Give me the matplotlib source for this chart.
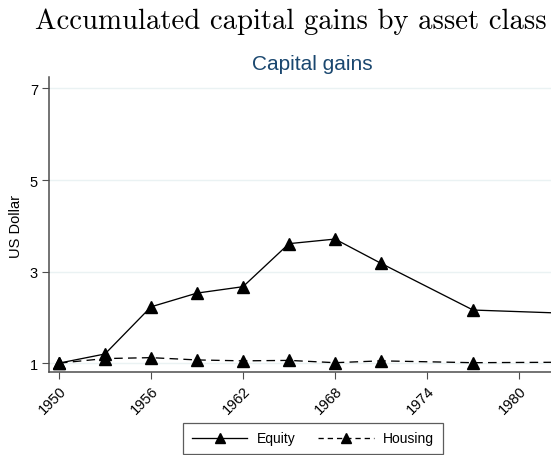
import matplotlib
matplotlib.use("Agg")
import matplotlib.pyplot as plt
from matplotlib.lines import Line2D

years = [1950, 1953, 1956, 1959, 1962, 1965, 1968, 1971, 1977, 1983]
equity = [1.00, 1.20, 2.23, 2.53, 2.67, 3.61, 3.71, 3.18, 2.16, 2.09]
housing = [1.00, 1.10, 1.12, 1.07, 1.05, 1.06, 1.01, 1.05, 1.01, 1.02]
xticks = [1950, 1956, 1962, 1968, 1974, 1980]
yticks = [1, 3, 5, 7]

W, H = 551, 456
fig = plt.figure(figsize=(W / 100, H / 100), dpi=100)
fig.patch.set_facecolor("white")

sans = ["Liberation Sans", "DejaVu Sans"]

ax = fig.add_axes([49 / W, 1 - 373.3 / H, 526 / W, 295.3 / H])
ax.set_xlim(1949.35, 1983.65)
ax.set_ylim(0.8, 7.25)

ax.plot(years, equity, color="black", lw=0.95, marker="^", ms=9,
        markeredgecolor="black", markerfacecolor="black", label="Equity", zorder=3)
ax.plot(years, housing, color="black", lw=0.95, marker="^", ms=9,
        dashes=(6.5, 4), markeredgecolor="black", markerfacecolor="black",
        label="Housing", zorder=3)

for s in ["top", "right"]:
    ax.spines[s].set_visible(False)
for s in ["left", "bottom"]:
    ax.spines[s].set_color("#4d4d4d")
    ax.spines[s].set_linewidth(1.1)

ax.set_yticks(yticks)
ax.set_yticklabels([str(v) for v in yticks], fontfamily=sans, fontsize=10.5)
ax.set_xticks(xticks)
ax.set_xticklabels([str(v) for v in xticks], fontfamily=sans, fontsize=10.5,
                   rotation=45, ha="right", rotation_mode="anchor")
ax.tick_params(axis="both", direction="out", length=5, width=0.8, color="#4d4d4d",
               pad=3)
ax.yaxis.grid(True, color="#eaf2f3", lw=1.0)
ax.set_axisbelow(True)

fig.text(16 / W, 1 - 227 / H, "US Dollar", rotation=90, ha="center", va="center",
         fontfamily=sans, fontsize=10.5)

fig.text(312 / W, 1 - 64 / H, "Capital gains", ha="center", va="center",
         fontfamily=sans, fontsize=15, color="#1a476f")
fig.text(290.5 / W, 1 - 29 / H, "Accumulated capital gains by asset class",
         ha="center", va="baseline", fontfamily="cmr10", fontsize=20.7)

handles = [
    Line2D([], [], color="black", lw=0.95, marker="^", ms=9),
    Line2D([], [], color="black", lw=0.95, marker="^", ms=9, dashes=(4, 3)),
]
leg = fig.legend(handles, ["Equity", "Housing"], loc="center",
                 bbox_to_anchor=(313 / W, 1 - 439.5 / H), ncol=2,
                 prop={"family": sans, "size": 10}, frameon=True, fancybox=False,
                 edgecolor="#333333", handlelength=4.0, handletextpad=0.7,
                 columnspacing=1.6, borderpad=0.6, markerscale=0.85)
leg.get_frame().set_linewidth(0.9)

fig.savefig("out.png", dpi=100)
